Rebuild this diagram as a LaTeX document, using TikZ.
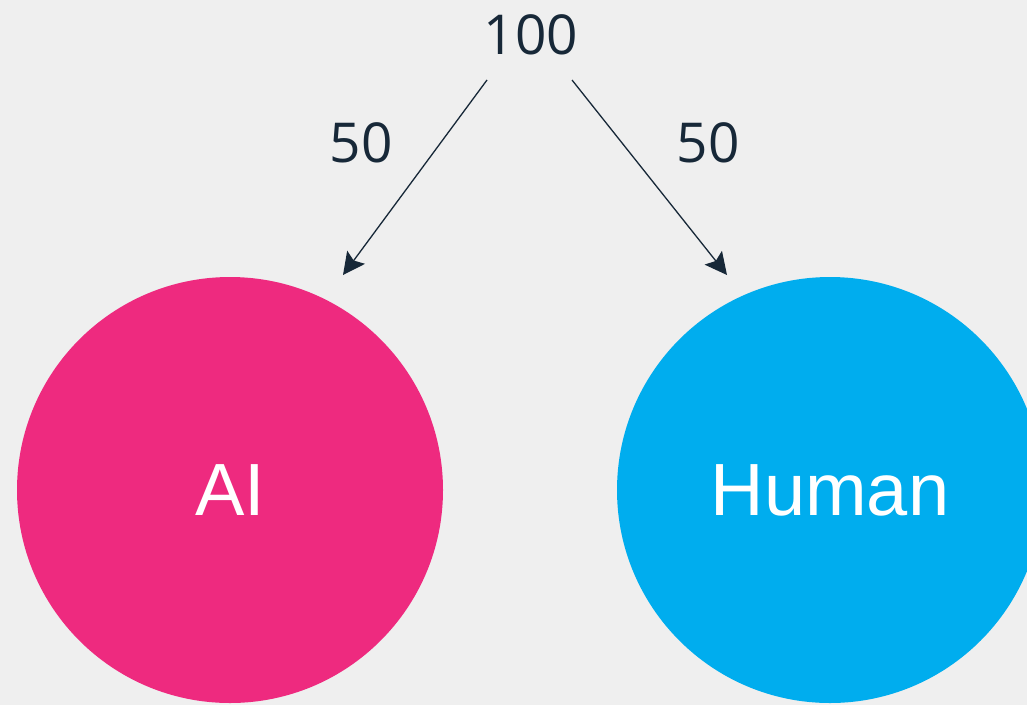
\documentclass[tikz,border=0pt]{standalone}
\usepackage{fontspec}
\setmainfont{Liberation Sans}
\newfontfamily\numfont{Open Sans}
\usepackage{tikz}
\usetikzlibrary{arrows.meta}

\definecolor{bgGray}{HTML}{EFEFEF}
\definecolor{aiPink}{HTML}{EE2A7F}
\definecolor{humanBlue}{HTML}{00ADEE}
\definecolor{inkNavy}{HTML}{172838}

\begin{document}
\begin{tikzpicture}[x=1pt,y=-1pt]
\tikzset{count/.style = {font = \numfont\fontsize{55}{60}\selectfont, text = inkNavy},
	group/.style = {circle, minimum size = 426pt, inner sep = 0pt, text = white,
		font = \fontsize{74}{80}\selectfont},
	share/.style = {-{Stealth[length=22pt,width=22pt,inset=4pt]}, inkNavy, line width = 1.3pt}}
	\clip (0,0) rectangle (1027,705);
	\fill [bgGray] (0,0) rectangle (1027,705);
	\node [count] (total) at (531,35) {100};
	\node [count] (aiShare) at (361,143) {50};
	\node [count] (humanShare) at (708,143) {50};
	\node [group, fill = aiPink] (ai) at (230,490) {\raisebox{-3pt}{AI}};
	\node [group, fill = humanBlue] (human) at (830,490) {\raisebox{-3pt}{Human}};
	\coordinate (aiFrom) at (487,80);
	\coordinate (aiTo) at (343,275);
	\coordinate (humanFrom) at (572,80);
	\coordinate (humanTo) at (727,275);
	\draw [share] (aiFrom) -- (aiTo);
	\draw [share] (humanFrom) -- (humanTo);
\end{tikzpicture}
\end{document}
